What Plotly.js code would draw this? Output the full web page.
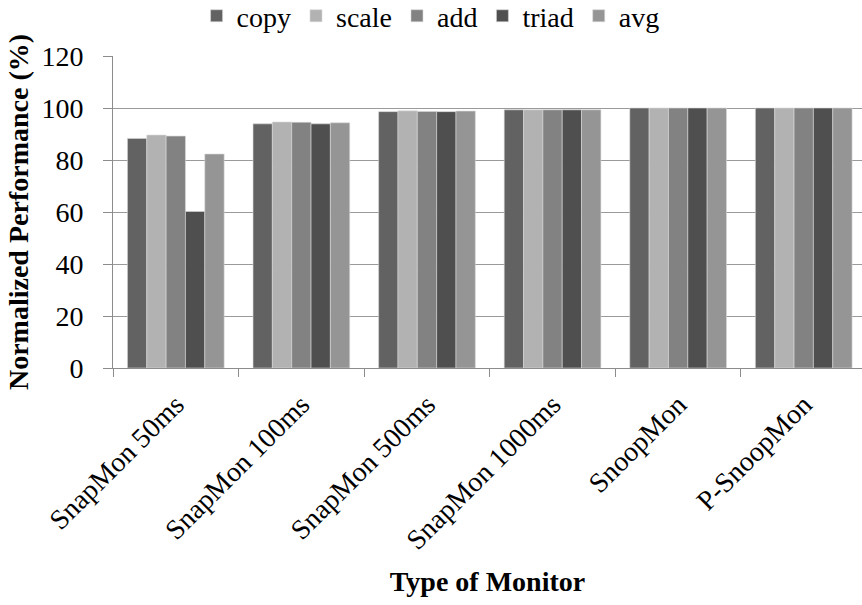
<!DOCTYPE html>
<html>
<head>
<meta charset="utf-8">
<script src="https://cdn.plot.ly/plotly-3.0.1.min.js"></script>
<style>html,body{margin:0;padding:0;background:#fff;}#chart{width:862px;height:605px;}</style>
</head>
<body>
<div id="chart"></div>
<script>
var categories = ["SnapMon 50ms", "SnapMon 100ms", "SnapMon 500ms", "SnapMon 1000ms", "SnoopMon", "P-SnoopMon"];
var seriesNames = ["copy", "scale", "add", "triad", "avg"];
var copyVals  = [88.3, 93.9, 98.6, 99.3, 100, 100];
var scaleVals = [89.6, 94.6, 98.9, 99.3, 100, 100];
var addVals   = [89.2, 94.5, 98.7, 99.3, 100, 100];
var triadVals = [60.2, 93.9, 98.6, 99.3, 100, 100];
var avgVals   = [82.3, 94.3, 98.8, 99.3, 100, 100];
var colors = ["#626262", "#b2b2b2", "#828282", "#4f4f4f", "#959595"];
var yTicks = [0, 20, 40, 60, 80, 100, 120];

var allVals = [copyVals, scaleVals, addVals, triadVals, avgVals];
var traces = allVals.map(function (v, i) {
  return {
    type: "bar",
    name: seriesNames[i],
    x: categories,
    y: v,
    marker: {color: colors[i], line: {width: 0.6, color: "#d8d8d8"}},
    hoverinfo: "skip"
  };
});

var font = "Liberation Serif";
var layout = {
  width: 862, height: 605,
  margin: {l: 113, r: 0, t: 56, b: 237, autoexpand: false},
  paper_bgcolor: "#fff", plot_bgcolor: "#fff",
  font: {family: font, color: "#000", size: 28},
  barmode: "group",
  bargap: 0.23,
  bargroupgap: 0,
  showlegend: true,
  legend: {
    orientation: "h", x: 0.424, xanchor: "center", y: 1.128, yanchor: "middle",
    font: {family: font, size: 28, color: "#000"},
    itemwidth: 30, tracegroupgap: 0, itemclick: false
  },
  xaxis: {
    type: "category",
    range: [-0.5, 5.464],
    tickangle: -45,
    tickfont: {family: font, size: 28, color: "#000"},
    ticklabelstandoff: 8,
    showline: true, linecolor: "#8c8c8c", linewidth: 1,
    ticks: "outside", tickson: "boundaries", ticklen: 8, tickcolor: "#8c8c8c",
    showgrid: false,
    title: {text: "Type of Monitor", font: {family: font, size: 28, color: "#000", weight: "bold"}, standoff: 16}
  },
  yaxis: {
    range: [0, 120],
    tickvals: yTicks,
    ticktext: yTicks.map(String),
    tickfont: {family: font, size: 28, color: "#000"},
    ticklabelstandoff: 14,
    showline: true, linecolor: "#8c8c8c", linewidth: 1,
    ticks: "outside", ticklen: 9, tickcolor: "#8c8c8c",
    showgrid: true, gridcolor: "#9a9a9a", gridwidth: 1,
    zeroline: false,
    title: {text: "Normalized Performance (%)", font: {family: font, size: 28, color: "#000", weight: "bold"}, standoff: 4}
  }
};

Plotly.newPlot("chart", traces, layout, {displayModeBar: false, staticPlot: true});
</script>
</body>
</html>
